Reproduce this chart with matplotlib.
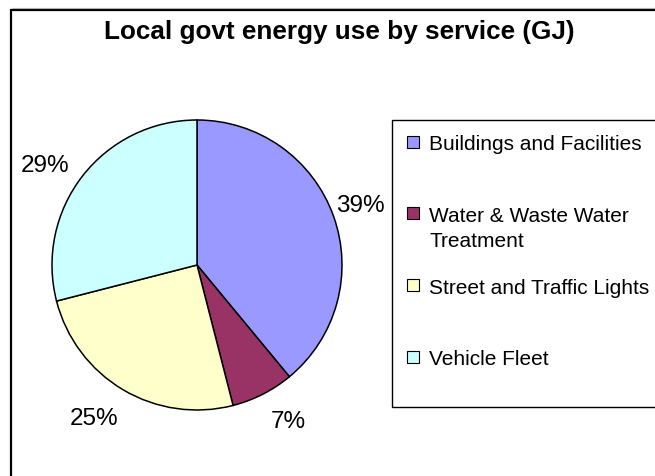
import matplotlib
matplotlib.use("Agg")
import numpy as np
import matplotlib.pyplot as plt
from matplotlib.patches import Rectangle
from matplotlib.lines import Line2D

plt.rcParams['font.family'] = ['Liberation Sans', 'DejaVu Sans']

# chart data
title = "Local govt energy use by service (GJ)"
services = ["Buildings and Facilities",
            "Water & Waste Water\nTreatment",
            "Street and Traffic Lights",
            "Vehicle Fleet"]
shares = [39, 7, 25, 29]  # percent of total GJ
colors = ["#9999FF", "#993366", "#FFFFCC", "#CCFFFF"]

W, H = 655, 477
fig = plt.figure(figsize=(W / 100, H / 100), dpi=100)

def fx(x):
    return x / W

def fy(y):
    return 1 - y / H

# outer chart border (runs off the right and bottom), thin grey line above it
fig.lines.append(Line2D([fx(12), 1], [fy(9), fy(9)], transform=fig.transFigure,
                        color="#b0b0b0", linewidth=0.8))
fig.patches.append(Rectangle((fx(11), fy(490)), fx(670) - fx(11), fy(10.5) - fy(490),
                             transform=fig.transFigure, fill=False,
                             edgecolor="black", linewidth=1.6))

fig.text(fx(339), fy(32), title, ha="center", va="center",
         fontsize=18.8, fontweight="bold")

# pie
cx, cy, R = 197, 266, 145
pad = 1.1
ax = fig.add_axes([fx(cx - pad * R), fy(cy + pad * R), 2 * pad * R / W, 2 * pad * R / H])
wedges, texts = ax.pie(shares, colors=colors, startangle=90, counterclock=False,
                       labels=[f"{s}%" for s in shares], labeldistance=1.24,
                       wedgeprops=dict(edgecolor="black", linewidth=1.1),
                       textprops=dict(fontsize=17.5))
# small pixel nudges for the percent labels (x right, y down)
nudges = [(-6, 1), (10, -4), (-11, -2), (-10, 10)]
for t, (dx, dy) in zip(texts, nudges):
    x, y = t.get_position()
    t.set_position((x + dx / R, y - dy / R))
    t.set_ha("center")
    t.set_va("center")
ax.set_xlim(-pad, pad)
ax.set_ylim(-pad, pad)
ax.axis("off")

# legend box, entries spread over equal slots
lx0, ly0, ly1 = 392, 121, 408
fig.patches.append(Rectangle((fx(lx0), fy(ly1)), fx(700) - fx(lx0), fy(ly0) - fy(ly1),
                             transform=fig.transFigure, fill=False,
                             edgecolor="black", linewidth=1.0))
slot = (ly1 - ly0) / len(services)
sq = 12
line_h = 25
for i, (name, c) in enumerate(zip(services, colors)):
    yy = ly0 + i * slot + 21.5
    fig.patches.append(Rectangle((fx(407), fy(yy + sq / 2)), sq / W, sq / H,
                                 transform=fig.transFigure, facecolor=c,
                                 edgecolor="black", linewidth=0.8))
    for k, part in enumerate(name.split("\n")):
        fig.text(fx(429), fy(yy + k * line_h), part, ha="left",
                 va="center_baseline", fontsize=15)

fig.savefig("out.png", dpi=100)
